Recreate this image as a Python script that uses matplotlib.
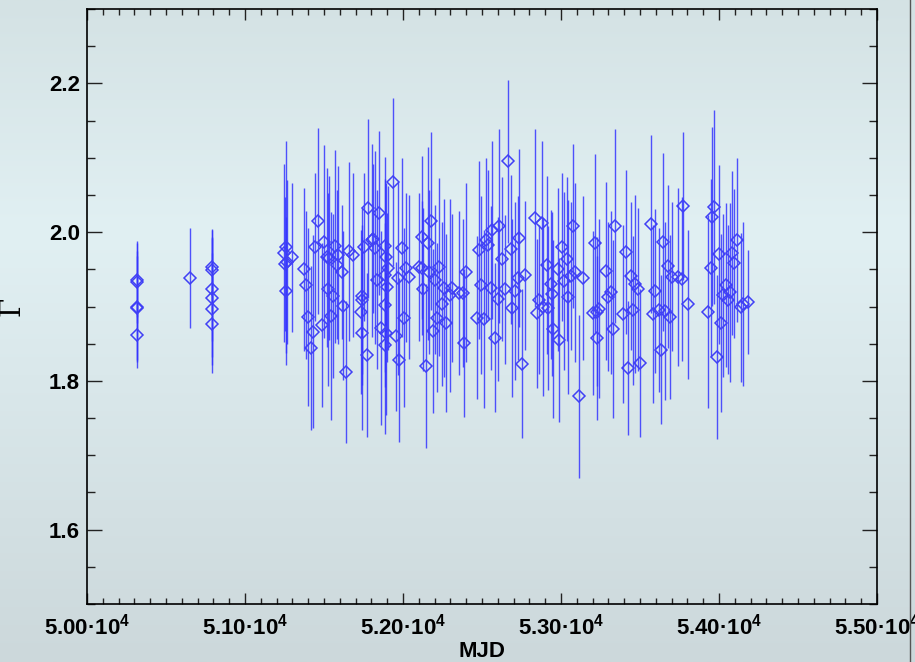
import numpy as np
import matplotlib
matplotlib.use('Agg')
import matplotlib.pyplot as plt
from matplotlib.colors import LinearSegmentedColormap
from matplotlib.ticker import MultipleLocator, FuncFormatter
from matplotlib.lines import Line2D

plt.rcParams['font.family'] = ['Liberation Sans', 'DejaVu Sans']
plt.rcParams['mathtext.fontset'] = 'custom'
plt.rcParams['mathtext.rm'] = 'Liberation Sans:bold'
plt.rcParams['mathtext.bf'] = 'Liberation Sans:bold'
plt.rcParams['mathtext.default'] = 'rm'

# photon index vs MJD
mjd = [
    50316, 50316, 50316, 50316, 50316,
    50652,
    50791, 50791, 50791, 50791, 50791, 50791,
    51259, 51247, 51297, 51266, 51253, 51259, 51462, 51443, 51500, 51373,
    51386, 51519, 51532, 51570, 51589, 51582, 51614, 51658, 51684, 51525,
    51557, 51620, 51399, 51430, 51487, 51544, 51418, 51639, 51778, 51753,
    51804, 51740, 51740, 51734, 51740, 51772,
    51848, 51937, 51810, 51823, 51886, 51892, 51905, 51835, 51886, 51899,
    51994, 52019, 52038, 51968, 51886, 52006, 51861, 51892, 51956, 51886,
    51975, 52177, 52120, 52158, 52101, 52120, 52165, 52203, 52228, 52127,
    52259, 52310, 52297, 52354, 52380, 52399, 52247, 52215, 52272, 52190,
    52146, 52386,
    52665, 52835, 52880, 52608, 52563, 52525, 52538, 52481, 52684, 52734,
    52627, 52772, 52728, 52494, 52557, 52646, 52709, 52601, 52911, 52981,
    53006, 52937, 52943, 52861, 52886, 52918, 52848, 52690, 52468, 52513,
    52582, 52949, 52987, 52753,
    53076, 53038, 53089, 53063, 53139, 53019, 53044, 53215, 53342, 53285,
    53316, 53297, 53240, 53202, 53228, 53228, 53329, 53114, 53411, 53443,
    53468, 53487, 53392, 53456, 53424, 53500, 53570, 53595, 53582,
    53772, 53646, 53677, 53703, 53741, 53766, 53620, 53658, 53690, 53804,
    53633, 53968, 53956, 54114, 54000, 54082, 54095, 53949, 54044, 54070,
    54025, 54057, 53930, 54013, 53987, 54139, 54152, 54184,
]
gamma = [
    1.936, 1.933, 1.898, 1.900, 1.862,
    1.938,
    1.953, 1.949, 1.923, 1.912, 1.897, 1.876,
    1.980, 1.972, 1.966, 1.960, 1.957, 1.921, 2.015, 1.980, 1.987, 1.950,
    1.929, 1.966, 1.965, 1.981, 1.969, 1.956, 1.946, 1.974, 1.969, 1.923,
    1.914, 1.901, 1.886, 1.866, 1.875, 1.887, 1.844, 1.812, 2.032, 1.980,
    1.989, 1.914, 1.909, 1.893, 1.864, 1.835,
    2.026, 2.067, 1.991, 1.979, 1.981, 1.966, 1.952, 1.936, 1.942, 1.926,
    1.979, 1.952, 1.940, 1.938, 1.902, 1.885, 1.871, 1.864, 1.860, 1.848,
    1.828, 2.015, 1.993, 1.985, 1.953, 1.952, 1.946, 1.936, 1.953, 1.923,
    1.925, 1.925, 1.915, 1.918, 1.918, 1.946, 1.903, 1.885, 1.878, 1.867,
    1.820, 1.851,
    2.095, 2.019, 2.012, 2.008, 2.003, 1.989, 1.983, 1.976, 1.977, 1.992,
    1.964, 1.942, 1.938, 1.929, 1.925, 1.923, 1.921, 1.910, 1.956, 1.950,
    1.980, 1.930, 1.917, 1.909, 1.899, 1.898, 1.891, 1.898, 1.885, 1.883,
    1.858, 1.870, 1.855, 1.823,
    2.008, 1.964, 1.946, 1.941, 1.938, 1.934, 1.913, 1.985, 2.008, 1.948,
    1.919, 1.913, 1.897, 1.891, 1.893, 1.858, 1.870, 1.779, 1.973, 1.941,
    1.930, 1.923, 1.890, 1.895, 1.817, 1.824, 2.011, 1.921, 1.890,
    2.035, 1.987, 1.954, 1.940, 1.940, 1.937, 1.895, 1.894, 1.886, 1.903,
    1.842, 2.034, 2.021, 1.989, 1.970, 1.972, 1.958, 1.952, 1.929, 1.919,
    1.915, 1.909, 1.893, 1.878, 1.832, 1.899, 1.903, 1.906,
]
gamma_err = [
    0.050, 0.055, 0.070, 0.075, 0.045,
    0.067,
    0.050, 0.055, 0.070, 0.080, 0.075, 0.065,
    0.143, 0.120, 0.100, 0.110, 0.090, 0.100, 0.125, 0.100, 0.130, 0.110,
    0.100, 0.120, 0.110, 0.130, 0.120, 0.100, 0.090, 0.120, 0.110, 0.130,
    0.110, 0.100, 0.120, 0.130, 0.110, 0.140, 0.110, 0.095, 0.120, 0.100,
    0.130, 0.120, 0.100, 0.110, 0.130, 0.110,
    0.110, 0.113, 0.100, 0.130, 0.120, 0.100, 0.110, 0.120, 0.130, 0.100,
    0.120, 0.100, 0.110, 0.130, 0.110, 0.120, 0.130, 0.110, 0.100, 0.120,
    0.110, 0.120, 0.110, 0.130, 0.100, 0.090, 0.110, 0.100, 0.120, 0.110,
    0.120, 0.100, 0.130, 0.110, 0.100, 0.120, 0.110, 0.100, 0.120, 0.110,
    0.110, 0.100,
    0.110, 0.120, 0.110, 0.130, 0.120, 0.110, 0.100, 0.120, 0.100, 0.120,
    0.110, 0.100, 0.110, 0.120, 0.110, 0.100, 0.120, 0.110, 0.120, 0.110,
    0.100, 0.100, 0.110, 0.100, 0.120, 0.110, 0.100, 0.120, 0.110, 0.120,
    0.100, 0.120, 0.110, 0.100,
    0.110, 0.110, 0.120, 0.100, 0.110, 0.120, 0.130, 0.120, 0.130, 0.120,
    0.110, 0.100, 0.120, 0.110, 0.100, 0.110, 0.120, 0.110, 0.110, 0.100,
    0.120, 0.110, 0.120, 0.100, 0.090, 0.100, 0.120, 0.110, 0.120,
    0.100, 0.120, 0.110, 0.100, 0.120, 0.110, 0.110, 0.120, 0.110, 0.100,
    0.100, 0.130, 0.120, 0.110, 0.120, 0.110, 0.100, 0.120, 0.110, 0.120,
    0.110, 0.100, 0.130, 0.120, 0.110, 0.100, 0.110, 0.070,
]

fig = plt.figure(figsize=(9.15, 6.62), dpi=100)

# vertical background gradient
bg = fig.add_axes([0, 0, 1, 1], zorder=-10)
cmap = LinearSegmentedColormap.from_list('bg', [
    (0.0, '#d4e2e4'), (0.35, '#e1f0f3'), (1.0, '#ccd8db')])
bg.imshow(np.linspace(0, 1, 256).reshape(-1, 1), aspect='auto', cmap=cmap,
          extent=[0, 1, 0, 1], origin='upper')
bg.axis('off')

ax = fig.add_axes([87 / 915, 1 - 604 / 662, 790 / 915, 595 / 662])
ax.set_facecolor('none')

ax.errorbar(mjd, gamma, yerr=gamma_err, fmt='none', ecolor='#3535ff',
            elinewidth=1.0, alpha=0.85, capsize=0, zorder=2)
ax.plot(mjd, gamma, 'D', ms=6.4, mfc='none', mec='#4040f5', mew=1.1,
        zorder=3)

ax.set_xlim(50000, 55000)
ax.set_ylim(1.5, 2.3)
ax.xaxis.set_major_locator(MultipleLocator(1000))
ax.xaxis.set_minor_locator(MultipleLocator(100))
ax.yaxis.set_major_locator(MultipleLocator(0.2))
ax.yaxis.set_minor_locator(MultipleLocator(0.05))
ax.xaxis.set_major_formatter(FuncFormatter(
    lambda v, p: f"{v / 1e4:.2f}·10$^{{4}}$"))
ax.yaxis.set_major_formatter(FuncFormatter(lambda v, p: f"{v:.1f}"))

ax.tick_params(axis='both', which='both', direction='in',
               top=True, right=True, width=1.0, colors='#222222')
ax.tick_params(axis='x', which='major', length=8, pad=7)
ax.tick_params(axis='x', which='minor', length=4)
ax.tick_params(axis='y', which='major', length=11, pad=5)
ax.tick_params(axis='y', which='minor', length=5.5)
for lab in ax.get_xticklabels() + ax.get_yticklabels():
    lab.set_fontsize(16)
    lab.set_fontweight('bold')
    lab.set_color('black')
for sp in ax.spines.values():
    sp.set_linewidth(1.2)
    sp.set_color('black')

ax.set_xlabel('MJD', fontsize=16, fontweight='bold')
ax.xaxis.set_label_coords(0.5, -0.062)
ax.set_ylabel('Γ', fontsize=20, family=['DejaVu Serif', 'DejaVu Sans'])
ax.yaxis.set_label_coords(-0.078, 0.5)

# window edge on the right
fig.add_artist(Line2D([910 / 915, 910 / 915], [0, 1], color='#555555',
                      lw=1.0))

fig.savefig('out.png', dpi=100)
